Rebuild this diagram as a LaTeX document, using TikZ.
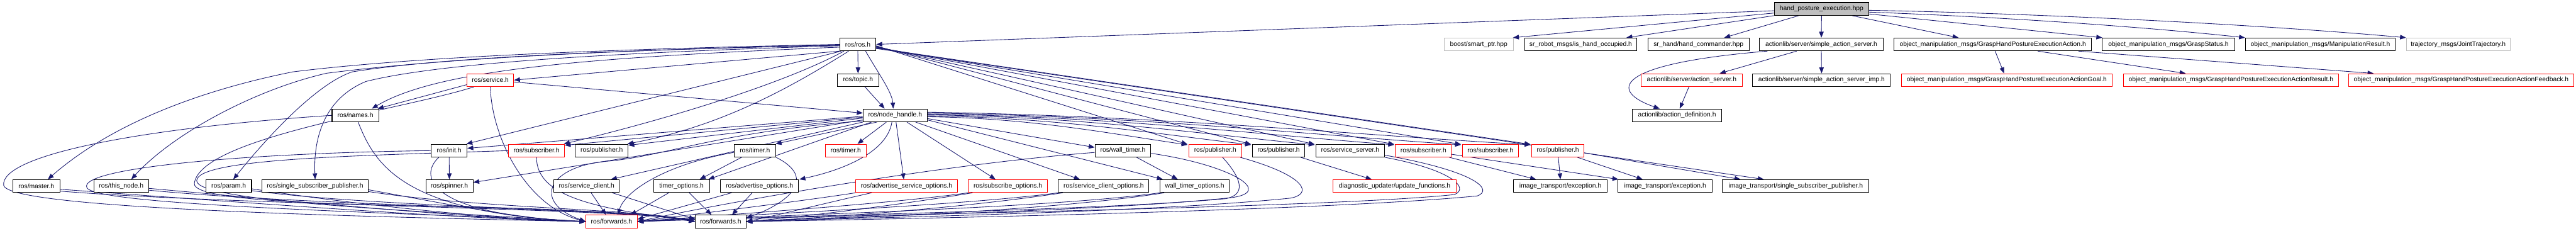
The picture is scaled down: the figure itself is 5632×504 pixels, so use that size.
\documentclass[tikz,border=0pt]{standalone}
\usepackage{fontspec}
\setmainfont{Liberation Sans}
\usetikzlibrary{arrows.meta,calc}
\definecolor{edgeblue}{HTML}{191970}
\definecolor{rootgray}{HTML}{BFBFBF}
\definecolor{extgray}{HTML}{BFBFBF}
\definecolor{redb}{HTML}{FF0000}
\pgfdeclarelayer{edgelayer}
\pgfsetlayers{edgelayer,main}
\tikzset{
  box/.style={draw=black, line width=1.4pt, fill=white, minimum height=28pt, inner sep=0pt,
    font=\fontsize{14.2}{17}\selectfont},
  redbox/.style={box, draw=redb},
  extbox/.style={box, draw=extgray},
  rootbox/.style={box, fill=rootgray},
  e/.style={draw=edgeblue, line width=1.2pt, -{Triangle[length=13pt,width=10pt]}},
}
\begin{document}
\begin{tikzpicture}[x=1pt,y=-1pt]
\useasboundingbox (0,0) rectangle (5632,504);
% ---------- nodes ----------
\node[rootbox, minimum width=207pt] (hpe) at (3982.5,19.5) {hand\_posture\_execution.hpp};
% row 1
\node[box, minimum width=79pt] (ros) at (1875.5,97) {ros/ros.h};
\node[extbox, minimum width=152pt] (boost) at (3233,97) {boost/smart\_ptr.hpp};
\node[box, minimum width=246pt] (srrobot) at (3456,97) {sr\_robot\_msgs/is\_hand\_occupied.h};
\node[box, minimum width=221pt] (srhand) at (3713.5,97) {sr\_hand/hand\_commander.hpp};
\node[box, minimum width=270pt] (sas) at (3982,97) {actionlib/server/simple\_action\_server.h};
\node[box, minimum width=432pt] (ghpea) at (4357,97) {object\_manipulation\_msgs/GraspHandPostureExecutionAction.h};
\node[box, minimum width=290pt] (gstatus) at (4741,97) {object\_manipulation\_msgs/GraspStatus.h};
\node[box, minimum width=328pt] (mresult) at (5073,97) {object\_manipulation\_msgs/ManipulationResult.h};
\node[extbox, minimum width=227pt] (traj) at (5374.5,97) {trajectory\_msgs/JointTrajectory.h};
% row 2
\node[redbox, minimum width=102pt] (service) at (1072,175) {ros/service.h};
\node[box, minimum width=90pt] (topic) at (1876,175) {ros/topic.h};
\node[redbox, minimum width=221pt] (aserver) at (3698.5,175) {actionlib/server/action\_server.h};
\node[box, minimum width=301pt] (sasimp) at (3982.5,175) {actionlib/server/simple\_action\_server\_imp.h};
\node[redbox, minimum width=461pt] (goal) at (4387.5,175) {object\_manipulation\_msgs/GraspHandPostureExecutionActionGoal.h};
\node[redbox, minimum width=471pt] (result) at (4877.5,175) {object\_manipulation\_msgs/GraspHandPostureExecutionActionResult.h};
\node[redbox, minimum width=492pt] (feedback) at (5381,175) {object\_manipulation\_msgs/GraspHandPostureExecutionActionFeedback.h};
% row 3
\node[box, minimum width=102pt] (names) at (777,252) {ros/names.h};
\node[box, minimum width=140pt] (nh) at (1957,252) {ros/node\_handle.h};
\node[box, minimum width=195pt] (adef) at (3666.5,252) {actionlib/action\_definition.h};
% row 4
\node[box, minimum width=78pt] (init) at (982,329) {ros/init.h};
\node[redbox, minimum width=122pt] (subA) at (1173,329) {ros/subscriber.h};
\node[box, minimum width=115pt] (pubA) at (1315.5,329) {ros/publisher.h};
\node[box, minimum width=91pt] (timerA) at (1650.5,329) {ros/timer.h};
\node[redbox, minimum width=90pt] (timerB) at (1849,329) {ros/timer.h};
\node[box, minimum width=122pt] (wtimer) at (2455,329) {ros/wall\_timer.h};
\node[redbox, minimum width=116pt] (pubB) at (2657,329) {ros/publisher.h};
\node[box, minimum width=115pt] (pubC) at (2795.5,329) {ros/publisher.h};
\node[box, minimum width=150pt] (sserver) at (2952,329) {ros/service\_server.h};
\node[redbox, minimum width=122pt] (subB) at (3112,329) {ros/subscriber.h};
\node[redbox, minimum width=123pt] (subC) at (3258.5,329) {ros/subscriber.h};
\node[redbox, minimum width=114pt] (pubD) at (3406,329) {ros/publisher.h};
% row 5
\node[box, minimum width=103pt] (master) at (79.5,406.5) {ros/master.h};
\node[box, minimum width=120pt] (thisnode) at (265,406.5) {ros/this\_node.h};
\node[box, minimum width=100pt] (param) at (500,406.5) {ros/param.h};
\node[box, minimum width=232pt] (ssp) at (689,406.5) {ros/single\_subscriber\_publisher.h};
\node[box, minimum width=103pt] (spinner) at (982.5,406.5) {ros/spinner.h};
\node[box, minimum width=143pt] (sclient) at (1282.5,406.5) {ros/service\_client.h};
\node[box, minimum width=122pt] (topts) at (1490,406.5) {timer\_options.h};
\node[box, minimum width=171pt] (aopts) at (1660.5,406.5) {ros/advertise\_options.h};
\node[redbox, minimum width=222pt] (asopts) at (1982,406.5) {ros/advertise\_service\_options.h};
\node[redbox, minimum width=173pt] (subopts) at (2203.5,406.5) {ros/subscribe\_options.h};
\node[box, minimum width=198pt] (scopts) at (2413,406.5) {ros/service\_client\_options.h};
\node[box, minimum width=152pt] (wtopts) at (2612,406.5) {wall\_timer\_options.h};
\node[redbox, minimum width=270pt] (diag) at (3049,406.5) {diagnostic\_updater/update\_functions.h};
\node[box, minimum width=205pt] (itexcA) at (3411.5,406.5) {image\_transport/exception.h};
\node[box, minimum width=207pt] (itexcB) at (3640.5,406.5) {image\_transport/exception.h};
\node[box, minimum width=320pt] (itssp) at (3926,406.5) {image\_transport/single\_subscriber\_publisher.h};
% row 6
\node[redbox, minimum width=112pt] (fwdA) at (1337,484) {ros/forwards.h};
\node[box, minimum width=111pt] (fwdB) at (1575.5,484) {ros/forwards.h};
% ---------- edges ----------
\begin{pgfonlayer}{edgelayer}
% root
\draw[e] ($(hpe.west)+(0,4)$) -- (ros.east);
\draw[e] ($(hpe.west)+(0,9)$) -- ($(boost.north east)+(-2,0)$);
\draw[e] (hpe.south west) -- ($(srrobot.north east)+(-24,0)$);
\draw[e] ($(hpe.south)+(-50,0)$) -- ($(srhand.north east)+(-55,0)$);
\draw[e] (hpe.south) -- (sas.north);
\draw[e] ($(hpe.south)+(67,0)$) -- ($(ghpea.north)+(-75,0)$);
\draw[e] ($(hpe.east)+(0,11)$) -- ($(gstatus.north west)+(1,0)$);
\draw[e] ($(hpe.east)+(0,7)$) .. controls (4400,38) and (4700,60) .. (mresult.north west);
\draw[e] ($(hpe.east)+(0,3)$) .. controls (4400,28) and (4900,50) .. (traj.north west);
% actionlib
\draw[e] ($(sas.south west)+(18,0)$) .. controls (3520,140) and (3520,200) .. ($(adef.north)+(-38,0)$);
\draw[e] ($(sas.south)+(-54,0)$) -- ($(aserver.north east)+(-50,0)$);
\draw[e] (sas.south) -- (sasimp.north);
\draw[e] ($(aserver.south)+(-6,0)$) -- ($(adef.north)+(6,0)$);
% action msgs
\draw[e] ($(ghpea.south)+(5,0)$) -- ($(goal.north)+(-6,0)$);
\draw[e] ($(ghpea.south)+(98,0)$) -- ($(result.north)+(-99,0)$);
\draw[e] ($(ghpea.south)+(187,0)$) -- ($(feedback.north west)+(55,0)$);
% ros.h
\draw[e] (ros.south) -- (topic.north);
\draw[e] ($(ros.south)+(17,0)$) .. controls (1920,160) and (1950,200) .. ($(nh.north)+(-4,0)$);
\draw[e] ($(topic.south)+(15,0)$) -- ($(nh.north)+(-23,0)$);
\draw[e] (ros.south west) -- (service.east);
\draw[e] ($(ros.south west)+(4,0)$) -- ($(init.north east)+(-2,0)$);
\draw[e] ($(ros.south west)+(10,0)$) .. controls (1700,190) and (1420,270) .. ($(subA.north east)+(-2,0)$);
\draw[e] ($(ros.south)+(-20,0)$) .. controls (1730,190) and (1580,275) .. ($(pubA.north east)+(-2,0)$);
\draw[e] (ros.west) .. controls (1300,108) and (900,125) .. (640,157) .. controls (450,195) and (250,265) .. ($(master.north)+(25,0)$);
\draw[e] ($(ros.west)+(0,1)$) .. controls (1300,110) and (950,130) .. (714,160) .. controls (560,195) and (380,290) .. ($(thisnode.north)+(22,0)$);
\draw[e] ($(ros.west)+(0,2)$) .. controls (1300,110) and (950,128) .. (770,157) .. controls (700,180) and (600,280) .. ($(param.north)+(10,0)$);
\draw[e] ($(ros.west)+(0,3)$) .. controls (1300,116) and (950,140) .. (800,178) .. controls (710,215) and (685,300) .. (ssp.north);
\draw[e] ($(ros.west)+(0,6)$) .. controls (1300,125) and (960,150) .. ($(names.north)+(36,0)$);
\draw[e] ($(ros.east)+(0,3)$) -- ($(pubB.north west)+(-2,1)$);
\draw[e] ($(ros.east)+(0,4)$) -- ($(pubC.north west)+(-2,1)$);
\draw[e] ($(ros.east)+(0,5)$) -- ($(sserver.north west)+(-2,1)$);
\draw[e] ($(ros.east)+(0,6)$) -- ($(subB.north west)+(-2,1)$);
\draw[e] ($(ros.east)+(0,7)$) -- ($(subC.north west)+(-2,1)$);
\draw[e] ($(ros.east)+(0,8)$) -- ($(pubD.north west)+(-2,1)$);
\draw[e] ($(ros.east)+(0,9)$) -- ($(itssp.north west)+(91,0)$);
% service.h
\draw[e] ($(service.east)+(0,4)$) -- ($(nh.west)+(0,-5)$);
\draw[e] ($(service.west)+(0,10)$) -- ($(names.north east)+(-3,0)$);
\draw[e] (service.south) .. controls (1075,300) and (1150,450) .. (fwdA.west);
\draw[e] ($(service.south west)+(16,0)$) .. controls (880,240) and (440,300) .. (425,400) .. controls (415,455) and (1000,445) .. (1250,460) .. controls (1400,466) and (1480,476) .. (fwdB.west);
% names.h
\draw[e] ($(names.south)+(6,0)$) .. controls (820,360) and (880,465) .. (fwdA.west);
\draw[e] (names.west) .. controls (300,280) and (0,340) .. (8,405) .. controls (20,450) and (600,470) .. (fwdA.west);
% init.h
\draw[e] (init.south) -- (spinner.north);
\draw[e] (init.west) .. controls (500,335) and (170,370) .. (190,410) .. controls (210,450) and (900,465) .. (fwdA.west);
\draw[e] ($(init.south west)+(17,0)$) .. controls (910,390) and (950,470) .. (fwdA.west);
% subscriber (red, left)
\draw[e] (subA.west) .. controls (800,340) and (430,345) .. (430,395) .. controls (430,440) and (900,460) .. (fwdA.west);
\draw[e] (subA.south) .. controls (1173,430) and (1300,455) .. (fwdB.west);
% node_handle.h left side
\draw[e] ($(nh.west)+(0,2)$) -- ($(init.east)+(0,-5)$);
\draw[e] ($(nh.west)+(0,4)$) -- ($(subA.north east)+(0,3)$);
\draw[e] ($(nh.west)+(0,6)$) -- ($(pubA.north east)+(0,3)$);
\draw[e] ($(nh.west)+(0,10)$) -- ($(spinner.east)+(0,-8)$);
\draw[e] ($(nh.west)+(0,12)$) .. controls (1560,290) and (1460,340) .. (1330,352) .. controls (1200,362) and (1160,440) .. (fwdA.west);
\draw[e] (nh.south west) -- ($(sclient.north east)+(-19,0)$);
\draw[e] ($(nh.south west)+(19,0)$) -- ($(topts.north east)+(-3,0)$);
\draw[e] ($(nh.south west)+(31,0)$) -- ($(timerA.north east)+(-1,0)$);
\draw[e] ($(nh.south)+(-19,0)$) -- ($(timerB.north east)+(-20,0)$);
\draw[e] ($(nh.south)+(-7,0)$) .. controls (1940,330) and (1850,370) .. ($(aopts.north east)+(1,0)$);
\draw[e] ($(nh.south)+(2,0)$) -- ($(asopts.north)+(-6,0)$);
% node_handle.h right side
\draw[e] ($(nh.south east)+(-45,0)$) -- ($(subopts.north)+(-27,0)$);
\draw[e] ($(nh.south east)+(-26,0)$) -- ($(scopts.north)+(-52,0)$);
\draw[e] ($(nh.east)+(0,10)$) -- ($(wtopts.north west)+(7,0)$);
\draw[e] ($(nh.east)+(0,7)$) -- ($(wtimer.west)+(0,-7)$);
\draw[e] ($(nh.east)+(0,3)$) .. controls (2256,258) and (2427,292) .. ($(pubB.north west)+(-2,2)$);
\draw[e] ($(nh.east)+(0,1)$) .. controls (2311,257) and (2525,292) .. ($(pubC.north west)+(-2,2)$);
\draw[e] ($(nh.east)+(0,-1)$) .. controls (2367,255) and (2622,292) .. ($(sserver.north west)+(-2,2)$);
\draw[e] ($(nh.east)+(0,-3)$) .. controls (2437,255) and (2744,293) .. ($(subB.north west)+(-2,2)$);
\draw[e] ($(nh.east)+(0,-5)$) .. controls (2495,254) and (2846,293) .. ($(subC.north west)+(-2,2)$);
\draw[e] ($(nh.east)+(0,-7)$) .. controls (2556,254) and (2952,294) .. ($(pubD.north west)+(-2,2)$);
% timer.h
\draw[e] ($(timerA.south west)+(17,0)$) -- ($(topts.north east)+(-22,0)$);
\draw[e] ($(timerA.west)+(0,4)$) .. controls (1450,360) and (1365,420) .. ($(fwdA.north)+(14,0)$);
\draw[e] (timerA.south east) .. controls (1790,390) and (1720,445) .. ($(fwdB.east)+(0,-8)$);
% wall_timer.h
\draw[e] ($(wtimer.south)+(30,0)$) -- ($(wtopts.north)+(-37,0)$);
\draw[e] ($(wtimer.west)+(0,4)$) .. controls (2050,360) and (1600,440) .. (fwdA.east);
\draw[e] ($(wtimer.east)+(0,6)$) .. controls (2690,360) and (2790,420) .. (2690,432) .. controls (2400,462) and (1900,470) .. (fwdB.east);
% publisher (red) and service_server loops
\draw[e] ($(pubB.south)+(16,0)$) .. controls (2715,390) and (2725,425) .. (2680,434) .. controls (2400,460) and (1700,472) .. (fwdA.east);
\draw[e] ($(pubB.south east)+(-4,0)$) .. controls (2860,385) and (2870,425) .. (2820,433) .. controls (2500,465) and (1900,475) .. (fwdB.east);
\draw[e] (sserver.south east) .. controls (3170,370) and (3215,410) .. (3180,425) .. controls (2900,455) and (1800,470) .. (fwdA.east);
\draw[e] ($(sserver.east)+(0,10)$) .. controls (3230,375) and (3265,415) .. (3230,428) .. controls (2900,460) and (2000,478) .. (fwdB.east);
% publisher / subscriber -> image_transport, diagnostics
\draw[e] ($(pubC.south east)+(-10,0)$) -- ($(diag.north)+(-50,0)$);
\draw[e] ($(subB.south east)+(-5,0)$) -- ($(itexcA.north west)+(50,0)$);
\draw[e] ($(subB.east)+(0,8)$) -- ($(itexcB.north west)+(2,0)$);
\draw[e] ($(pubD.south)+(1,0)$) -- (itexcA.north);
\draw[e] ($(pubD.south east)+(-15,0)$) -- ($(itexcB.north west)+(55,0)$);
\draw[e] ($(pubD.east)+(0,5)$) -- ($(itssp.north west)+(40,0)$);
% row 5 -> forwards
\draw[e] ($(master.east)+(0,7)$) .. controls (500,440) and (1000,478) .. (fwdA.west);
\draw[e] ($(master.east)+(0,11)$) .. controls (500,448) and (1400,456) .. (fwdB.west);
\draw[e] ($(thisnode.east)+(0,5)$) .. controls (700,445) and (1050,478) .. (fwdA.west);
\draw[e] ($(thisnode.east)+(0,9)$) .. controls (700,452) and (1400,456) .. (fwdB.west);
\draw[e] ($(param.east)+(0,6)$) .. controls (800,450) and (1100,480) .. (fwdA.west);
\draw[e] ($(param.east)+(0,10)$) .. controls (850,456) and (1400,456) .. (fwdB.west);
\draw[e] ($(ssp.east)+(0,8)$) .. controls (1000,450) and (1150,480) .. (fwdA.west);
\draw[e] ($(ssp.east)+(0,12)$) .. controls (1050,456) and (1400,456) .. (fwdB.west);
\draw[e] ($(sclient.south)+(10,0)$) -- ($(fwdA.north)+(-12,0)$);
\draw[e] ($(sclient.south east)+(-16,0)$) -- ($(fwdB.west)+(0,-5)$);
\draw[e] ($(topts.south)+(-28,0)$) -- ($(fwdA.north east)+(-15,0)$);
\draw[e] ($(topts.south)+(17,0)$) -- ($(fwdB.north)+(-20,0)$);
\draw[e] ($(aopts.south west)+(25,0)$) -- ($(fwdA.east)+(0,-5)$);
\draw[e] ($(aopts.south)+(-16,0)$) -- ($(fwdB.north)+(25,0)$);
\draw[e] (asopts.south west) .. controls (1750,440) and (1500,470) .. (fwdA.east);
\draw[e] ($(asopts.south west)+(35,0)$) .. controls (1800,445) and (1700,470) .. (fwdB.east);
\draw[e] (subopts.south west) .. controls (1950,445) and (1600,468) .. (fwdA.east);
\draw[e] ($(subopts.south west)+(10,0)$) .. controls (1950,450) and (1750,474) .. (fwdB.east);
\draw[e] (scopts.south west) .. controls (2100,450) and (1600,470) .. (fwdA.east);
\draw[e] ($(scopts.south west)+(10,0)$) .. controls (2100,455) and (1800,476) .. (fwdB.east);
\draw[e] (wtopts.south west) .. controls (2300,455) and (1650,472) .. (fwdA.east);
\draw[e] ($(wtopts.south west)+(10,0)$) .. controls (2300,460) and (1850,478) .. (fwdB.east);
\end{pgfonlayer}
\end{tikzpicture}
\end{document}
